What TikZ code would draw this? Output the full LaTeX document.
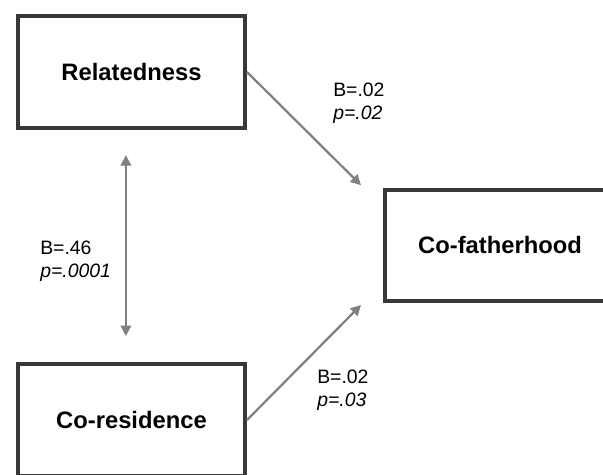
\documentclass[tikz,border=0pt]{standalone}
\usepackage{fontspec}
\setmainfont{Liberation Sans}
\usetikzlibrary{arrows.meta,positioning}

\begin{document}
\begin{tikzpicture}[x=0.025cm,y=0.025cm,
  every node/.style={font=\fontsize{13.8}{16.4}\selectfont},
  var/.style={draw=black!78,line width=2.8pt,minimum width=5.675cm,minimum height=2.8cm,
    font=\fontsize{16.9}{20}\selectfont\bfseries},
  coef/.style={align=left,inner sep=0pt,anchor=west},
  arr/.style={-{Triangle[length=2.6mm,width=2.6mm]},line width=1.6pt,draw=black!50}]
\useasboundingbox (0,0) rectangle (603,474);
\node[var] (rel) at (131.5,402) {Relatedness};
\node[var] (res) at (131.5,54) {Co-residence};
\node[var,minimum width=5.75cm,minimum height=2.775cm] (fath) at (500,228.5) {Co-fatherhood};
\draw[arr] (rel.east) -- ([xshift=-0.55cm,yshift=0.07cm]fath.north west);
\draw[arr] (res.east) -- ([xshift=-0.55cm,yshift=-0.05cm]fath.south west);
\draw[arr,{Triangle[length=2.6mm,width=2.6mm]}-{Triangle[length=2.6mm,width=2.6mm]},
  shorten <=0.63cm,shorten >=0.65cm] ([xshift=-0.14cm]rel.south) -- ([xshift=-0.14cm]res.north);
\node[coef] (c1) at (333,370.5) {B=.02\\\textit{p=.02}};
\node[coef] (c2) at (40,212.5) {B=.46\\\textit{p=.0001}};
\node[coef] (c3) at (317,84) {B=.02\\\textit{p=.03}};
\end{tikzpicture}
\end{document}
